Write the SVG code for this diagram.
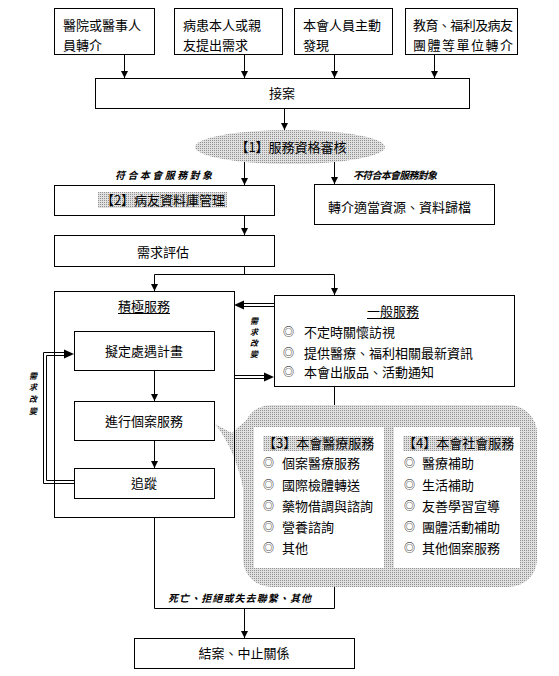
<svg xmlns="http://www.w3.org/2000/svg" width="559" height="676" viewBox="0 0 559 676">
<style>
.box{fill:#fff;stroke:#000;stroke-width:1}
.nobox{fill:none;stroke:#000;stroke-width:1}
.t{font-family:"Noto Sans CJK TC","Noto Sans CJK SC",sans-serif;font-size:13px;fill:#000}
.c{text-anchor:middle}
.lbl{font-family:"Noto Sans CJK TC","Noto Sans CJK SC",sans-serif;font-size:10px;font-style:italic;font-weight:bold;fill:#000}
.vl{font-family:"Noto Sans CJK TC","Noto Sans CJK SC",sans-serif;font-size:8px;font-style:italic;font-weight:bold;fill:#000;text-anchor:middle}
.b{font-family:"Noto Sans CJK TC","Noto Sans CJK SC",sans-serif;font-size:11px;fill:#000}
.ln{fill:none;stroke:#000;stroke-width:1}
.ar{fill:none;stroke:#000;stroke-width:1;marker-end:url(#ah)}
</style>
<defs>
<pattern id="dots" width="2" height="2" patternUnits="userSpaceOnUse">
<rect width="2" height="2" fill="#e0e0e0"/>
<rect width="1" height="1" fill="#909090"/>
</pattern>
<marker id="ah" markerUnits="userSpaceOnUse" markerWidth="8" markerHeight="8" refX="7" refY="3.5" orient="auto">
<path d="M0,0 L7,3.5 L0,7 z" fill="#000"/>
</marker>
</defs>

<g id="bubble">
<path d="M253,416 C242,423 236,429 232,433 L215,424 C228,440 238,462 244,492 Z" fill="url(#dots)"/>
<rect x="243" y="405" width="294" height="182" rx="28" fill="url(#dots)"/>
</g>

<g id="connectors">
<line class="ar" x1="124.5" y1="55" x2="124.5" y2="78"/>
<line class="ar" x1="244.5" y1="55" x2="244.5" y2="78"/>
<line class="ar" x1="334.5" y1="55" x2="334.5" y2="78"/>
<line class="ar" x1="434.5" y1="55" x2="434.5" y2="78"/>
<line class="ar" x1="284.5" y1="108" x2="284.5" y2="130"/>
<line class="ar" x1="244.5" y1="162" x2="244.5" y2="185"/>
<line class="ar" x1="334.5" y1="162" x2="334.5" y2="184"/>
<line class="ar" x1="244.5" y1="215" x2="244.5" y2="235"/>
<polyline class="ln" points="244.5,266 244.5,274.5"/>
<polyline class="ln" points="154.5,274.5 334.5,274.5"/>
<line class="ar" x1="154.5" y1="274.5" x2="154.5" y2="291"/>
<line class="ar" x1="334.5" y1="274.5" x2="334.5" y2="295"/>
<line class="ar" x1="154.5" y1="370" x2="154.5" y2="401"/>
<line class="ar" x1="154.5" y1="440" x2="154.5" y2="468"/>
<line class="ln" x1="243" y1="303.5" x2="274" y2="303.5"/>
<line class="ln" x1="243" y1="306.5" x2="274" y2="306.5"/>
<path d="M234,305 L244,300.5 L244,309.5 z" fill="#000"/>
<line class="ln" x1="234" y1="375.5" x2="265" y2="375.5"/>
<line class="ln" x1="234" y1="378.5" x2="265" y2="378.5"/>
<path d="M274,377 L264,372.5 L264,381.5 z" fill="#000"/>
<polyline class="ln" points="74,483.5 43.5,483.5 43.5,352.5 65,352.5"/>
<polyline class="ln" points="74,480.5 46.5,480.5 46.5,355.5 65,355.5"/>
<path d="M74,354 L64,349.5 L64,358.5 z" fill="#000"/>
<line class="ln" x1="334.5" y1="386" x2="334.5" y2="405"/>
<polyline class="ln" points="154.5,517 154.5,608.5 334.5,608.5 334.5,587"/>
<line class="ar" x1="244.5" y1="608.5" x2="244.5" y2="638"/>
</g>

<g id="n-src1"><rect class="box" x="54.5" y="8.5" width="100" height="46"/>
<text class="t" x="63" y="30">醫院或醫事人</text><text class="t" x="63" y="50">員轉介</text></g>
<g id="n-src2"><rect class="box" x="174.5" y="8.5" width="108" height="46"/>
<text class="t" x="183" y="30">病患本人或親</text><text class="t" x="183" y="50">友提出需求</text></g>
<g id="n-src3"><rect class="box" x="294.5" y="8.5" width="98" height="46"/>
<text class="t" x="303" y="30">本會人員主動</text><text class="t" x="303" y="50">發現</text></g>
<g id="n-src4"><rect class="box" x="405.5" y="8.5" width="112" height="46"/>
<text class="t" x="413" y="30" textLength="100">教育、福利及病友</text><text class="t" x="413" y="50" textLength="100">團體等單位轉介</text></g>

<g id="n-intake"><rect class="box" x="95.5" y="78.5" width="374" height="30"/>
<text class="t c" x="282" y="98">接案</text></g>

<g id="n-eligibility"><ellipse cx="290" cy="147" rx="95" ry="17" fill="url(#dots)"/>
<text class="t c" x="291" y="152">【1】服務資格審核</text></g>

<text class="lbl" x="115" y="179" textLength="97">符合本會服務對象</text>
<text class="lbl" x="353" y="179" textLength="84">不符合本會服務對象</text>

<g id="n-database"><rect class="box" x="54.5" y="185.5" width="220" height="30"/>
<rect x="98" y="192" width="129" height="16" fill="url(#dots)"/>
<text class="t c" x="163" y="205">【2】病友資料庫管理</text></g>

<g id="n-referral"><rect class="box" x="314.5" y="184.5" width="180" height="40"/>
<text class="t" x="328" y="212">轉介適當資源、資料歸檔</text></g>

<g id="n-assess"><rect class="box" x="54.5" y="235.5" width="220" height="31"/>
<text class="t c" x="163" y="257">需求評估</text></g>

<g id="n-active"><rect class="nobox" x="54.5" y="291.5" width="180" height="226"/>
<text class="t c" x="144" y="311">積極服務</text>
<line class="ln" x1="118" y1="313.5" x2="170" y2="313.5"/></g>
<g id="n-plan"><rect class="box" x="74.5" y="331.5" width="140" height="39"/>
<text class="t c" x="144" y="356">擬定處遇計畫</text></g>
<g id="n-case"><rect class="box" x="74.5" y="401.5" width="140" height="39"/>
<text class="t c" x="144" y="426">進行個案服務</text></g>
<g id="n-track"><rect class="box" x="74.5" y="468.5" width="140" height="30"/>
<text class="t c" x="144" y="488">追蹤</text></g>

<text class="vl" x="33" y="379">需</text>
<text class="vl" x="33" y="390">求</text>
<text class="vl" x="33" y="402">改</text>
<text class="vl" x="33" y="414">變</text>
<text class="vl" x="254" y="324">需</text>
<text class="vl" x="254" y="335">求</text>
<text class="vl" x="254" y="346">改</text>
<text class="vl" x="254" y="357">變</text>

<g id="n-general"><rect class="box" x="274.5" y="295.5" width="240" height="91"/>
<text class="t c" x="393" y="316">一般服務</text>
<line class="ln" x1="367" y1="318.5" x2="419" y2="318.5"/>
<text class="b" x="283" y="336">◎</text><text class="t" x="304" y="337">不定時關懷訪視</text>
<text class="b" x="283" y="357">◎</text><text class="t" x="304" y="358">提供醫療、福利相關最新資訊</text>
<text class="b" x="283" y="376">◎</text><text class="t" x="304" y="377">本會出版品、活動通知</text></g>

<g id="n-medical"><rect x="254" y="427" width="130" height="141" fill="#fff"/>
<rect x="263" y="436" width="110" height="15" fill="url(#dots)"/>
<text class="t" x="263" y="448">【3】本會醫療服務</text>
<text class="b" x="263" y="467">◎</text><text class="t" x="282" y="468">個案醫療服務</text>
<text class="b" x="263" y="489">◎</text><text class="t" x="282" y="490">國際檢體轉送</text>
<text class="b" x="263" y="510">◎</text><text class="t" x="282" y="511">藥物借調與諮詢</text>
<text class="b" x="263" y="531">◎</text><text class="t" x="282" y="532">營養諮詢</text>
<text class="b" x="263" y="552">◎</text><text class="t" x="282" y="553">其他</text></g>

<g id="n-social"><rect x="394" y="427" width="126" height="141" fill="#fff"/>
<rect x="403" y="436" width="110" height="15" fill="url(#dots)"/>
<text class="t" x="403" y="448">【4】本會社會服務</text>
<text class="b" x="404" y="467">◎</text><text class="t" x="422" y="468">醫療補助</text>
<text class="b" x="404" y="489">◎</text><text class="t" x="422" y="490">生活補助</text>
<text class="b" x="404" y="510">◎</text><text class="t" x="422" y="511">友善學習宣導</text>
<text class="b" x="404" y="531">◎</text><text class="t" x="422" y="532">團體活動補助</text>
<text class="b" x="404" y="552">◎</text><text class="t" x="422" y="553">其他個案服務</text></g>

<text class="lbl" x="168" y="602" textLength="143">死亡、拒絕或失去聯繫、其他</text>

<g id="n-close"><rect class="box" x="134.5" y="638.5" width="220" height="30"/>
<text class="t c" x="244" y="658">結案、中止關係</text></g>
</svg>
